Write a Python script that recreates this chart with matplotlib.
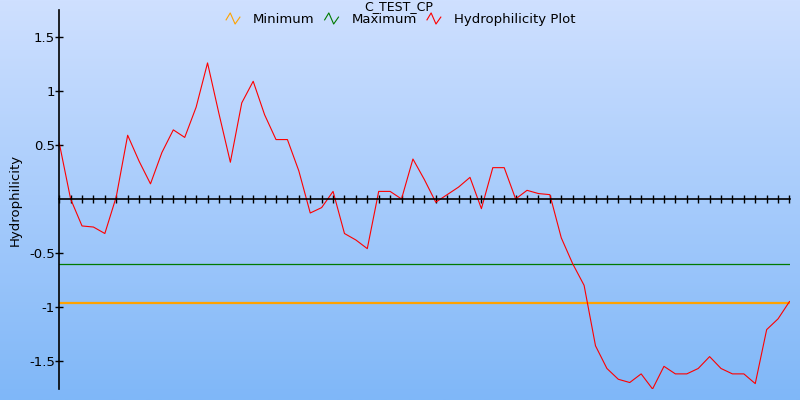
import numpy as np
import matplotlib
matplotlib.use("Agg")
import matplotlib.pyplot as plt
from matplotlib.lines import Line2D
from matplotlib.legend_handler import HandlerBase

# data
hydro = [0.52, 0.0, -0.25, -0.26, -0.32, 0.02, 0.59, 0.35, 0.14, 0.43,
         0.64, 0.57, 0.85, 1.26, 0.79, 0.34, 0.89, 1.09, 0.78, 0.55,
         0.55, 0.26, -0.13, -0.08, 0.07, -0.32, -0.38, -0.46, 0.07, 0.07,
         0.0, 0.37, 0.18, -0.03, 0.04, 0.11, 0.2, -0.09, 0.29, 0.29,
         0.0, 0.08, 0.05, 0.04, -0.36, -0.6, -0.8, -1.36, -1.57, -1.67,
         -1.7, -1.62, -1.76, -1.55, -1.62, -1.62, -1.57, -1.46, -1.57, -1.62,
         -1.62, -1.71, -1.21, -1.11, -0.95]
positions = list(range(len(hydro)))
minimum = -0.96
maximum = -0.6
ytick_vals = [1.5, 1, 0.5, -0.5, -1, -1.5]
ytick_labels = ["1.5", "1", "0.5", "-0.5", "-1", "-1.5"]


class ZigZag(HandlerBase):
    # small "/\/" icon like the original legend
    def create_artists(self, legend, orig, xd, yd, w, h, fs, trans):
        xs = np.array([0.0, 0.3, 0.65, 1.0]) * w - xd
        ys = np.array([0.35, 1.1, -0.1, 0.65]) * h - yd
        ln = Line2D(xs, ys, color=orig.get_color(), lw=0.8)
        ln.set_transform(trans)
        return [ln]


fig = plt.figure(figsize=(8, 4), dpi=100)

# gradient background
bg = fig.add_axes([0, 0, 1, 1], zorder=-1)
grad = np.linspace(0, 1, 256).reshape(-1, 1)
top = np.array([207, 224, 255]) / 255
bot = np.array([127, 183, 248]) / 255
img = top + (bot - top) * grad[:, :, None]
bg.imshow(img, aspect="auto", extent=[0, 1, 0, 1])
bg.axis("off")

ax = fig.add_axes([0.074, 0.0275, 0.913, 0.9475])
ax.patch.set_alpha(0)

l_min, = ax.plot([0, positions[-1]], [minimum, minimum], color="#ffa200", lw=1.6, label="Minimum")
l_max, = ax.plot([0, positions[-1]], [maximum, maximum], color="#007a00", lw=0.9, label="Maximum")
l_h, = ax.plot(positions, hydro, color="#ff0000", lw=0.8, label="Hydrophilicity Plot")

ax.set_xlim(0, positions[-1] + 0.01)
ax.set_ylim(-1.76, 1.75)

ax.spines["top"].set_visible(False)
ax.spines["right"].set_visible(False)
ax.spines["bottom"].set_position(("data", 0))
ax.spines["bottom"].set_linewidth(1.2)
ax.spines["left"].set_linewidth(1.2)

ax.set_xticks(positions)
ax.set_xticklabels([])
ax.tick_params(axis="x", direction="inout", length=6, width=1)
ax.set_yticks(ytick_vals)
ax.set_yticklabels(ytick_labels)
ax.tick_params(axis="y", direction="inout", length=6, width=1, labelsize=9.5, pad=0)

ax.set_ylabel("Hydrophilicity", fontsize=9.5, labelpad=5)

fig.text(0.498, 1.0, "C_TEST_CP", ha="center", va="top", fontsize=9)
fig.legend(handles=[l_min, l_max, l_h], loc="center", bbox_to_anchor=(0.501, 0.951),
           ncol=3, frameon=False, fontsize=9.5, handlelength=1.05, handletextpad=1.0,
           columnspacing=0.75, borderpad=0, handler_map={Line2D: ZigZag()})

fig.savefig("out.png", dpi=100)
